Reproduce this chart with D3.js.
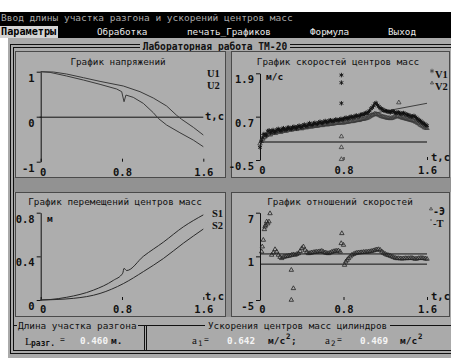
<!DOCTYPE html>
<html><head><meta charset="utf-8">
<script src="https://cdn.jsdelivr.net/npm/d3@7/dist/d3.min.js"></script>
<style>
html,body{margin:0;padding:0;background:#fff;overflow:hidden}
svg{display:block}
</style></head><body>
<svg id="c" width="451" height="358"></svg>
<script>
// ================= DATA =================
const statusText = "Ввод длины участка разгона и ускорений центров масс";
const menuItems = ["Параметры","Обработка","печать_Графиков","Формула","Выход"];
const frameTitle = "Лабораторная работа ТМ-20";
const tTicks = [0, 0.8, 1.6];
const tTickLabels = ["0","0.8","1.6"];

// Panel 1: voltages
const uTicks = [1, 0, -1];
const uTickLabels = ["1","0","-1"];
const tU1 = [0, 0.125, 0.256, 0.42, 0.584, 0.813, 0.977, 1.108, 1.239, 1.338, 1.387, 1.502, 1.6];
const u1  = [1.0, 0.993, 0.948, 0.867, 0.785, 0.682, 0.556, 0.415, 0.238, 0.03, -0.058, -0.236, -0.407];
const tU2 = [0, 0.092, 0.256, 0.42, 0.584, 0.748, 0.797, 0.82, 0.839, 0.911, 1.01, 1.108, 1.157, 1.239, 1.37, 1.502, 1.6];
const u2  = [1.0, 0.985, 0.904, 0.815, 0.719, 0.615, 0.556, 0.333, 0.481, 0.43, 0.296, 0.089, -0.037, -0.185, -0.356, -0.52, -0.667];

// Panel 2: velocities
const vTicks = [1.9, 0.7, -0.5];
const vTickLabels = ["1.9","0.7","-0.5"];
const tV = [0,.025,.05,.075,.1,.125,.15,.175,.2,.225,.25,.275,.3,.325,.35,.375,.4,.425,.45,.475,.5,.525,.55,.575,.6,.625,.65,.675,.7,.725,.75,.775,.8,.825,.85,.875,.9,.925,.95,.975,1,1.025,1.05,1.075,1.1,1.125,1.15,1.175,1.2,1.225,1.25,1.275,1.3,1.325,1.35,1.375,1.4,1.425,1.45,1.475,1.5,1.525,1.55,1.575,1.6];
const v1 = [-0.15,0.12,0.2,0.3,0.26,0.33,0.29,0.36,0.31,0.38,0.34,0.4,0.36,0.42,0.38,0.45,0.41,0.48,0.44,0.52,0.47,0.53,0.5,0.56,0.52,0.58,0.55,0.6,0.57,0.62,0.6,0.64,0.63,0.67,0.66,0.7,0.69,0.73,0.72,0.76,0.78,0.8,0.86,0.95,1.06,1.02,0.94,0.9,0.86,0.84,0.82,0.85,0.8,0.82,0.78,0.8,0.76,0.74,0.7,0.72,0.66,0.6,0.55,0.5,0.45];
const v2 = [-0.05,0.08,0.15,0.22,0.2,0.27,0.24,0.3,0.27,0.32,0.3,0.35,0.33,0.37,0.35,0.39,0.37,0.41,0.4,0.43,0.42,0.45,0.44,0.47,0.46,0.49,0.48,0.5,0.5,0.52,0.52,0.54,0.53,0.55,0.56,0.57,0.58,0.6,0.6,0.63,0.64,0.66,0.7,0.74,0.78,0.76,0.73,0.7,0.68,0.66,0.65,0.67,0.7,0.72,0.68,0.66,0.64,0.62,0.6,0.58,0.55,0.5,0.45,0.4,0.38];
const tVb = [.0125,.0375,.0625,.0875,.1125,.1375,.1625,.1875,.2125,.2375,.2625,.2875,.3125,.3375,.3625,.3875,.4125,.4375,.4625,.4875,.5125,.5375,.5625,.5875,.6125,.6375,.6625,.6875,.7125,.7375,.7625,.7875,.8125,.8375,.8625,.8875,.9125,.9375,.9625,.9875,1.0125,1.0375,1.0625,1.0875,1.1125,1.1375,1.1625,1.1875,1.2125,1.2375,1.2625,1.2875,1.3125,1.3375,1.3625,1.3875,1.4125,1.4375,1.4625,1.4875,1.5125,1.5375,1.5625,1.5875];
const v1b = [0.02,0.22,0.18,0.32,0.3,0.27,0.34,0.33,0.36,0.35,0.39,0.37,0.41,0.4,0.43,0.42,0.46,0.45,0.49,0.48,0.51,0.5,0.54,0.53,0.56,0.55,0.59,0.58,0.6,0.61,0.62,0.62,0.66,0.65,0.69,0.68,0.72,0.71,0.75,0.76,0.8,0.83,0.92,1.0,1.08,0.98,0.92,0.87,0.85,0.83,0.84,0.82,0.81,0.8,0.79,0.78,0.75,0.72,0.71,0.69,0.63,0.58,0.52,0.47];
const v2b = [0.02,0.12,0.19,0.21,0.24,0.25,0.28,0.28,0.3,0.31,0.33,0.34,0.35,0.36,0.37,0.38,0.39,0.4,0.42,0.42,0.44,0.44,0.46,0.46,0.48,0.48,0.49,0.5,0.51,0.52,0.53,0.53,0.54,0.55,0.57,0.57,0.59,0.6,0.62,0.63,0.65,0.68,0.72,0.76,0.77,0.75,0.71,0.69,0.67,0.66,0.66,0.69,0.71,0.7,0.67,0.65,0.63,0.61,0.59,0.56,0.52,0.47,0.43,0.39];
const tV1out = [0.78, 0.78, 0.78];
const v1out  = [1.85, 1.64, 1.07];
const tV2out = [0.78, 0.78, 0.78, 1.33];
const v2out  = [0.15, -0.15, -0.48, 1.09];
const trendT = [0, 1.6];
const trendV = [0.2, 1.07];

// Panel 3: displacements
const sTicks = [0.8, 0.4, 0];
const sTickLabels = ["0.8","0.4","0"];
const tS1 = [0, 0.1, 0.256, 0.518, 0.715, 0.807, 0.82, 0.846, 1.01, 1.207, 1.403, 1.6];
const s1  = [0, 0.005, 0.025, 0.09, 0.18, 0.245, 0.29, 0.27, 0.40, 0.53, 0.67, 0.78];
const tS2 = [0, 0.32, 0.584, 0.813, 1.01, 1.207, 1.403, 1.6];
const s2  = [0, 0.015, 0.06, 0.15, 0.26, 0.38, 0.52, 0.65];

// Panel 4: velocity ratios
const rTicks = [7, 1, -5];
const rTickLabels = ["7","1","-5"];
const tR = [.016,.022,.032,.042,.048,.054,.064,.074,.086,.096,.112,.128,.144,.16,.176,.192,.208,.224,.24,.256,.272,.288,.304,.32,.336,.352,.368,.384,.4,.416,.432,.448,.464,.48,.496,.512,.528,.544,.56,.576,.592,.608,.624,.64,.656,.672,.688,.704,.72,.736,.752,.768,.778,.784,.8,.81,.822,.835,.848,.864,.88,.896,.912,.928,.944,.96,.976,.992,1.008,1.024,1.04,1.056,1.072,1.088,1.104,1.12,1.136,1.152,1.168,1.184,1.2,1.216,1.232,1.248,1.264,1.28,1.296,1.312,1.328,1.344,1.36,1.376,1.392,1.408,1.424,1.44,1.456,1.472,1.488,1.504,1.52,1.536,1.552,1.568,1.584,1.6,0.3,0.32,0.3];
const rE = [1.64,2.33,3.25,4.71,5.08,5.3,5.77,5.5,5.77,6.9,1.19,1.5,1.96,1.64,1.19,0.9,0.73,0.9,0.96,1.0,1.05,1.1,1.19,1.25,1.19,1.3,1.41,1.7,2.1,2.33,1.87,1.6,1.41,1.45,1.51,1.55,1.6,1.62,1.64,1.68,1.73,1.6,1.51,1.45,1.41,1.5,1.6,1.68,1.73,1.75,1.78,1.64,2.79,4.16,2.56,-0.19,0.27,0.5,0.73,0.96,1.19,1.3,1.41,1.48,1.51,1.53,1.55,1.58,1.6,1.62,1.64,1.68,1.73,1.8,1.87,1.93,1.96,1.87,1.64,1.45,1.32,1.2,1.14,1.05,0.96,0.87,0.77,0.72,0.73,0.7,0.68,0.7,0.73,0.72,0.73,0.75,0.77,0.7,0.64,0.68,0.73,0.75,0.77,0.72,0.68,0.64,-0.88,-3.4,-5.0];
const rTheory = 1.4;

// Results
const lengthValue = "0.460";
const a1Value = "0.642";
const a2Value = "0.469";

// ================= DRAWING =================
const svg = d3.select("#c");
const MONO = '"DejaVu Sans Mono", monospace';
const SERIF = '"Liberation Serif", serif';
const GRAY = "#aaaaaa", DARK = "#929292";

function txt(x, y, s, o = {}) {
  return svg.append("text").attr("x", x).attr("y", y).text(s)
    .attr("font-family", o.family || MONO).attr("font-size", o.size || 9.3)
    .attr("font-weight", o.bold ? "bold" : null).attr("fill", o.fill || "#111")
    .attr("text-anchor", o.anchor || "start");
}
function line(x1, y1, x2, y2, c = "#111", w = 1) {
  svg.append("line").attr("x1", x1).attr("y1", y1).attr("x2", x2).attr("y2", y2)
    .attr("stroke", c).attr("stroke-width", w);
}
function rect(x, y, w, h, fill, stroke) {
  svg.append("rect").attr("x", x).attr("y", y).attr("width", w).attr("height", h)
    .attr("fill", fill).attr("stroke", stroke || "none");
}

// background
rect(0, 0, 451, 358, "#ffffff");
rect(8, 38, 443, 320, GRAY);
rect(0, 12, 451, 26, "#000");
txt(1, 21, statusText, {fill: "#a8a8a8", size: 9.5});
rect(0, 26, 58, 12, "#d4d4d4");
const menuX = [1, 97, 187, 310, 388];
menuItems.forEach((m, i) => txt(menuX[i], 35, m, {fill: i ? "#e8e8e8" : "#000", size: i ? 9.3 : 10.2, bold: i === 0}));

// dark bands
rect(14, 177, 437, 15, DARK);
rect(226, 51, 5, 266, DARK);

// outer double frame
line(10, 44.5, 451, 44.5); line(13, 47.5, 451, 47.5);
line(10.5, 44, 10.5, 354); line(13.5, 47, 13.5, 351);
line(10, 353.5, 451, 353.5); line(13, 350.5, 451, 350.5);
rect(140, 41, 150, 9, GRAY);
txt(215, 49.5, frameTitle, {anchor: "middle", bold: true, size: 9.6});

// panels
const panels = [
  {x: 15.5, y: 51.5, w: 210, h: 126},
  {x: 231.5, y: 51.5, w: 218, h: 126},
  {x: 15.5, y: 192.5, w: 210, h: 124},
  {x: 231.5, y: 192.5, w: 218, h: 124}
];
panels.forEach(p => rect(p.x, p.y, p.w, p.h, "#adadad", "#4a4a4a"));

function makePanel(p) {
  const x = d3.scaleLinear().domain([0, 1.6]).range([p.x0, p.x1]);
  const y = d3.scaleLinear().domain(p.domain).range([p.yBot, p.yTop]);
  const gy = svg.append("g").attr("transform", `translate(${p.x0},0)`);
  gy.call(d3.axisLeft(y).tickValues(p.ticks).tickFormat((d, i) => p.labels[i]).tickSize(4).tickSizeOuter(0).tickPadding(2));
  gy.attr("font-family", MONO).attr("font-size", 10.5).attr("font-weight", "bold");
  gy.selectAll("path,line").attr("stroke", "#111");
  gy.selectAll(".tick text").attr("dy", 9.5).attr("fill", "#111");
  const gx = svg.append("g").attr("transform", `translate(0,${p.yBot})`);
  gx.call(d3.axisBottom(x).tickValues(tTicks).tickFormat((d, i) => tTickLabels[i]).tickSize(-3).tickPadding(0));
  gx.attr("font-family", MONO).attr("font-size", 10.5).attr("font-weight", "bold");
  gx.select(".domain").remove();
  gx.selectAll("line").attr("stroke", "#111");
  gx.selectAll(".tick text").attr("y", p.xlab).attr("dy", 0).attr("fill", "#111")
    .attr("dx", d => d === 0 ? 2 : 0);
  return {x, y};
}

// --- Panel 1 ---
{
  const {x, y} = makePanel({x0: 40.7, x1: 203.3, yTop: 71.7, yBot: 161.7, domain: [-1, 1], ticks: uTicks, labels: uTickLabels, xlab: 14});
  line(x(0) - 1, y(0) + 0.5, x(1.6), y(0) + 0.5);
  const ln = d3.line().x(d => x(d[0])).y(d => y(d[1]));
  svg.append("path").attr("d", ln(tU1.map((t, i) => [t, u1[i]]))).attr("fill", "none").attr("stroke", "#3a3a3a");
  svg.append("path").attr("d", ln(tU2.map((t, i) => [t, u2[i]]))).attr("fill", "none").attr("stroke", "#3a3a3a");
  txt(118, 65, "График напряжений", {anchor: "middle"});
  txt(207, 77, "U1", {family: SERIF, size: 10.5, bold: true});
  txt(207, 89, "U2", {family: SERIF, size: 10.5, bold: true});
  txt(205, 120, "t,c", {size: 10.5, bold: true});
}

// --- Panel 2 ---
{
  const {x, y} = makePanel({x0: 260, x1: 427, yTop: 73.3, yBot: 160, domain: [-0.5, 1.9], ticks: vTicks, labels: vTickLabels, xlab: 14});
  line(x(0), y(0), x(1.6), y(0), "#5a5a5a", 2);
  const ln = d3.line().x(d => x(d[0])).y(d => y(d[1]));
  svg.append("path").attr("d", ln(trendT.map((t, i) => [t, trendV[i]]))).attr("fill", "none").attr("stroke", "#222").attr("stroke-width", 0.8);
  const star = d3.symbol().type(d3.symbolAsterisk).size(14);
  const tri = d3.symbol().type(d3.symbolTriangle2).size(14);
  const pts2 = tV.map((t, i) => [t, v2[i]]).concat(tVb.map((t, i) => [t, v2b[i]]), tV2out.map((t, i) => [t, v2out[i]]));
  svg.append("g").selectAll("path").data(pts2).join("path").attr("d", tri)
    .attr("transform", d => `translate(${x(d[0])},${y(d[1])})`).attr("fill", "none").attr("stroke", "#3a3a3a").attr("stroke-width", 0.8);
  const pts1 = tV.map((t, i) => [t, v1[i]]).concat(tVb.map((t, i) => [t, v1b[i]]), tV1out.map((t, i) => [t, v1out[i]]));
  svg.append("g").selectAll("path").data(pts1).join("path").attr("d", star)
    .attr("transform", d => `translate(${x(d[0])},${y(d[1])})`).attr("fill", "none").attr("stroke", "#111").attr("stroke-width", 0.9);
  txt(338, 65, "График скоростей центров масс", {anchor: "middle"});
  txt(266, 80, "м/с", {size: 9.5, bold: true});
  svg.append("path").attr("d", star).attr("transform", "translate(432,71)").attr("stroke", "#333").attr("fill", "none").attr("stroke-width", 0.7);
  svg.append("path").attr("d", tri).attr("transform", "translate(432,83) scale(0.7)").attr("stroke", "#333").attr("fill", "none");
  txt(435, 78, "V1", {family: SERIF, size: 10.5, bold: true});
  txt(435, 90, "V2", {family: SERIF, size: 10.5, bold: true});
  txt(431, 161, "t,c", {size: 10.5, bold: true});
}

// --- Panel 3 ---
{
  const {x, y} = makePanel({x0: 40.7, x1: 203.3, yTop: 212.7, yBot: 300, domain: [0, 0.8], ticks: sTicks, labels: sTickLabels, xlab: 13});
  const ln = d3.line().curve(d3.curveMonotoneX).x(d => x(d[0])).y(d => y(d[1]));
  svg.append("path").attr("d", ln(tS1.map((t, i) => [t, s1[i]]))).attr("fill", "none").attr("stroke", "#2a2a2a");
  svg.append("path").attr("d", ln(tS2.map((t, i) => [t, s2[i]]))).attr("fill", "none").attr("stroke", "#2a2a2a");
  txt(115, 205, "График перемещений центров масс", {anchor: "middle"});
  txt(47, 222, "м", {size: 9.5, bold: true});
  txt(212, 217, "S1", {family: SERIF, size: 10.5, bold: true});
  txt(212, 229, "S2", {family: SERIF, size: 10.5, bold: true});
  txt(205, 300, "t,c", {size: 10.5, bold: true});
}

// --- Panel 4 ---
{
  const {x, y} = makePanel({x0: 260, x1: 427, yTop: 212.7, yBot: 300, domain: [-5, 7], ticks: rTicks, labels: rTickLabels, xlab: 13});
  line(x(0), y(0) + 0.5, x(1.6), y(0) + 0.5);
  line(x(0), y(rTheory) + 0.5, x(1.6), y(rTheory) + 0.5);
  const tri = d3.symbol().type(d3.symbolTriangle2).size(14);
  svg.append("g").selectAll("path").data(tR.map((t, i) => [t, rE[i]])).join("path").attr("d", tri)
    .attr("transform", d => `translate(${x(d[0])},${y(d[1])})`).attr("fill", "none").attr("stroke", "#222").attr("stroke-width", 0.8);
  txt(340, 205, "График отношений скоростей", {anchor: "middle"});
  svg.append("path").attr("d", tri).attr("transform", "translate(431,209) scale(0.7)").attr("stroke", "#333").attr("fill", "none");
  txt(433, 215, "-Э", {size: 10, bold: true});
  txt(433, 227, "-Т", {family: SERIF, size: 10.5, bold: true});
  line(431, 219, 431, 221, "#555");
  txt(431, 300, "t,c", {size: 10.5, bold: true});
}

// --- results area ---
line(13, 325.5, 451, 325.5);
line(144.5, 325, 144.5, 351); line(146.5, 325, 146.5, 351);
rect(17, 321, 121, 8, GRAY);
txt(18, 329, "Длина участка разгона", {size: 9.4});
rect(205, 321, 185, 8, GRAY);
txt(208, 329, "Ускорения центров масс цилиндров", {size: 9.3});
txt(25, 345, "L", {family: SERIF, size: 11});
txt(31, 346, "разг.", {size: 8, bold: true});
txt(60, 342, "=", {size: 8});
txt(80, 344, lengthValue, {fill: "#f4f4f4", size: 9.3, bold: true});
txt(111, 344, "м.", {size: 9.5, bold: true});
txt(192, 344, "a", {family: SERIF, size: 11});
txt(198, 346, "1", {size: 7.5});
txt(204, 342, "=", {size: 8});
txt(227, 344, a1Value, {fill: "#f4f4f4", size: 9.3, bold: true});
txt(268, 344, "м/с", {size: 9.5, bold: true});
txt(286, 339, "2", {size: 7.5, bold: true});
txt(291, 344, ";", {size: 9.5, bold: true});
txt(325, 344, "a", {family: SERIF, size: 11});
txt(331, 346, "2", {size: 7.5});
txt(337, 342, "=", {size: 8});
txt(360, 344, a2Value, {fill: "#f4f4f4", size: 9.3, bold: true});
txt(400, 344, "м/с", {size: 9.5, bold: true});
txt(418, 339, "2", {size: 7.5, bold: true});
</script>
</body></html>
